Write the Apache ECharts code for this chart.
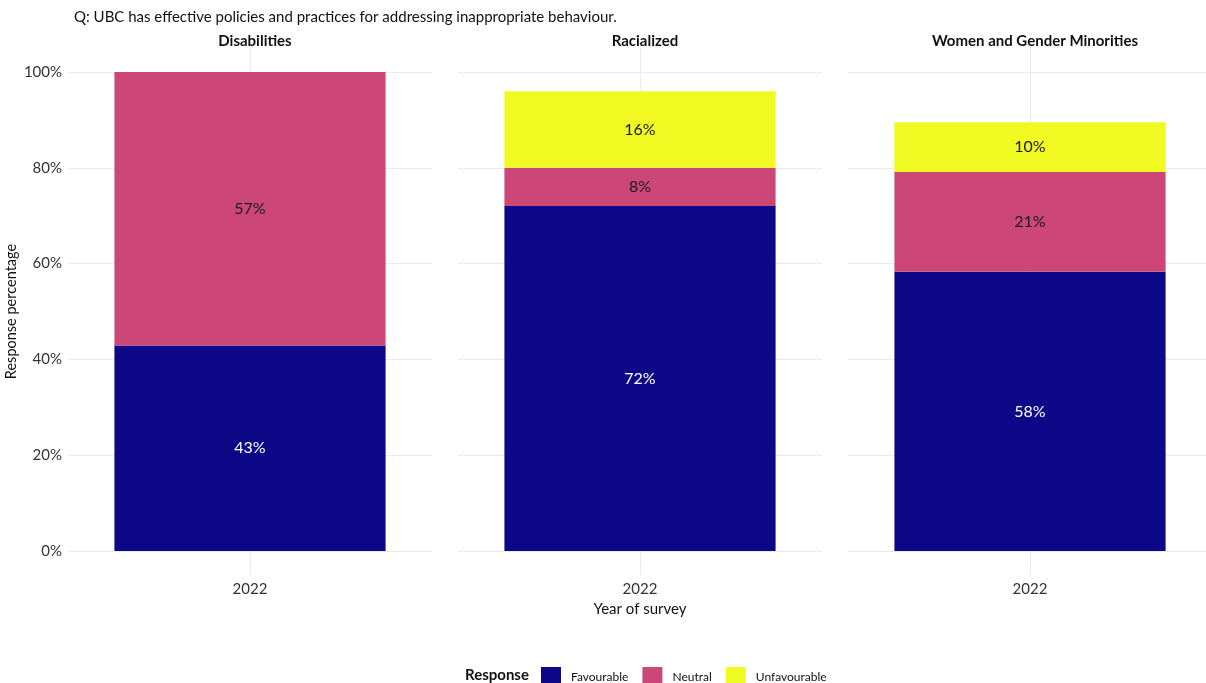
<!DOCTYPE html>
<html><head><meta charset="utf-8">
<script src="https://cdn.jsdelivr.net/npm/echarts@6/dist/echarts.min.js"></script>
<style>html,body{margin:0;padding:0;background:#fff}#c{width:1206px;height:683px}</style>
</head><body><div id="c"></div>
<script>
const categories = ['2022'];
const panels = ['Disabilities', 'Racialized', 'Women and Gender Minorities'];
const responses = ['Favourable', 'Neutral', 'Unfavourable'];
const favourable = [42.9, 72.0, 58.3];
const neutral = [57.1, 8.0, 20.8];
const unfavourable = [null, 16.0, 10.4];
const yTicks = [0, 20, 40, 60, 80, 100];

const colors = {Favourable: '#0d0887', Neutral: '#cc4778', Unfavourable: '#f0f921'};
const labelColors = {Favourable: '#ffffff', Neutral: '#1a1a1a', Unfavourable: '#1a1a1a'};
const values = {Favourable: favourable, Neutral: neutral, Unfavourable: unfavourable};
const FONT = 'Lato';

const lefts = [68, 458, 848];
const pw = 364;
const grids = [], xAxes = [], yAxes = [], series = [], titles = [];

titles.push({text: 'Q: UBC has effective policies and practices for addressing inappropriate behaviour.',
  left: 69, top: 5, textStyle: {fontFamily: FONT, fontSize: 15, fontWeight: 'normal', color: '#111'}});
titles.push({text: 'Response', left: 460, top: 663, textStyle: {fontFamily: FONT, fontSize: 15, fontWeight: 'bold', color: '#111'}});

panels.forEach((p, i) => {
  grids.push({left: lefts[i], width: pw, top: 72, height: 479, containLabel: false, outerBoundsMode: 'none'});
  xAxes.push({type: 'category', gridIndex: i, data: categories,
    axisLine: {show: false}, axisTick: {show: false},
    axisLabel: {margin: 31, fontFamily: FONT, fontSize: 15, color: '#333'},
    name: i === 1 ? 'Year of survey' : '', nameLocation: 'middle', nameGap: 48,
    nameTextStyle: {fontFamily: FONT, fontSize: 15, color: '#111'}});
  yAxes.push({type: 'value', gridIndex: i, min: 0, max: 100, interval: 20,
    axisLine: {show: false}, axisTick: {show: false},
    splitLine: {show: true, lineStyle: {color: '#ebebeb', width: 1}},
    axisLabel: {show: i === 0, margin: 6, fontFamily: FONT, fontSize: 15, color: '#333',
      formatter: v => v + '%'},
    name: i === 0 ? 'Response percentage' : '', nameLocation: 'middle', nameGap: 49,
    nameTextStyle: {fontFamily: FONT, fontSize: 14.5, color: '#111'}});
  titles.push({text: p, left: lefts[i] + pw / 2, textAlign: 'center', top: 29,
    textStyle: {fontFamily: FONT, fontSize: 15, fontWeight: 'bold', color: '#111'}});
  responses.forEach(r => {
    series.push({type: 'bar', name: r, xAxisIndex: i, yAxisIndex: i, stack: 'p' + i,
      barWidth: '74.5%', data: [values[r][i]],
      itemStyle: {color: colors[r]},
      label: {show: true, position: 'inside', fontFamily: FONT, fontSize: 16,
        color: labelColors[r], formatter: d => d.value == null ? '' : Math.round(d.value) + '%'},
      z: 3});
  });
});
panels.forEach((p, i) => {
  const gi = grids.length;
  grids.push({left: lefts[i], width: pw, top: 48, height: 527, outerBoundsMode: 'none'});
  xAxes.push({type: 'value', gridIndex: gi, min: 0, max: 2, interval: 1,
    axisLine: {show: false}, axisTick: {show: false}, axisLabel: {show: false},
    splitLine: {show: true, showMinLine: false, showMaxLine: false, lineStyle: {color: '#ebebeb', width: 1}}, z: 0});
  yAxes.push({type: 'value', gridIndex: gi, min: 0, max: 1, show: false, splitLine: {show: false}});
});

const chart = echarts.init(document.getElementById('c'), null, {renderer: 'canvas'});
chart.setOption({
  animation: false,
  backgroundColor: '#ffffff',
  title: titles,
  grid: grids, xAxis: xAxes, yAxis: yAxes, series: series,
  legend: {data: responses, left: 536, top: 662, icon: 'rect', itemWidth: 20, itemHeight: 20, itemGap: 14,
    textStyle: {fontFamily: FONT, fontSize: 12, color: '#111', padding: [0, 0, 0, 5]}}
});
</script></body></html>
